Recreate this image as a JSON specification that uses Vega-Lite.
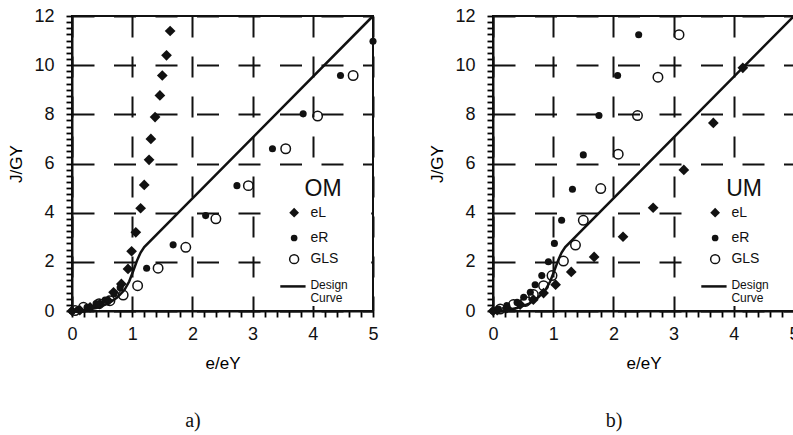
{
  "$schema": "https://vega.github.io/schema/vega-lite/v6.json",
  "padding": {"left": 6, "top": 6, "right": 0, "bottom": 0},
  "background": "white",
  "config": {
    "font": "Liberation Sans",
    "view": {"stroke": "#111", "strokeWidth": 2},
    "axis": {
      "domainColor": "#111", "domainWidth": 2,
      "gridColor": "#111", "gridWidth": 2,
      "labelColor": "#111", "labelFontSize": 18, "labelOverlap": false, "labelFlush": false,
      "titleColor": "black", "titleFontSize": 17, "titleFontWeight": "normal",
      "tickCount": 100
    },
    "text": {"color": "#111", "font": "Liberation Sans"},
    "title": {"color": "#111"}
  },
  "datasets": {
    "design": [
      {"x": 0, "y": 0}, {"x": 0.2, "y": 0.03}, {"x": 0.4, "y": 0.12}, {"x": 0.6, "y": 0.3},
      {"x": 0.75, "y": 0.55}, {"x": 0.87, "y": 0.85}, {"x": 0.95, "y": 1.2}, {"x": 1.02, "y": 1.65},
      {"x": 1.08, "y": 2.05}, {"x": 1.14, "y": 2.38}, {"x": 1.2, "y": 2.6}, {"x": 5, "y": 12}
    ],
    "om": [
      {"series": "eL", "x": 0, "y": 0}, {"series": "eL", "x": 0.13, "y": 0.03}, {"series": "eL", "x": 0.3, "y": 0.15},
      {"series": "eL", "x": 0.46, "y": 0.28}, {"series": "eL", "x": 0.6, "y": 0.42}, {"series": "eL", "x": 0.69, "y": 0.76},
      {"series": "eL", "x": 0.82, "y": 1.1}, {"series": "eL", "x": 0.93, "y": 1.71}, {"series": "eL", "x": 0.99, "y": 2.43},
      {"series": "eL", "x": 1.06, "y": 3.2}, {"series": "eL", "x": 1.14, "y": 4.18}, {"series": "eL", "x": 1.2, "y": 5.13},
      {"series": "eL", "x": 1.28, "y": 6.15}, {"series": "eL", "x": 1.31, "y": 7.0}, {"series": "eL", "x": 1.38, "y": 7.89},
      {"series": "eL", "x": 1.46, "y": 8.77}, {"series": "eL", "x": 1.5, "y": 9.58}, {"series": "eL", "x": 1.57, "y": 10.4},
      {"series": "eL", "x": 1.63, "y": 11.39},
      {"series": "eR", "x": 0, "y": 0}, {"series": "eR", "x": 0.1, "y": 0.05}, {"series": "eR", "x": 0.25, "y": 0.15},
      {"series": "eR", "x": 0.4, "y": 0.3}, {"series": "eR", "x": 0.55, "y": 0.45}, {"series": "eR", "x": 0.7, "y": 0.7},
      {"series": "eR", "x": 0.8, "y": 0.95}, {"series": "eR", "x": 1.24, "y": 1.74}, {"series": "eR", "x": 1.68, "y": 2.69},
      {"series": "eR", "x": 2.22, "y": 3.88}, {"series": "eR", "x": 2.74, "y": 5.1}, {"series": "eR", "x": 3.33, "y": 6.6},
      {"series": "eR", "x": 3.84, "y": 8.02}, {"series": "eR", "x": 4.46, "y": 9.58}, {"series": "eR", "x": 5.0, "y": 10.97},
      {"series": "GLS", "x": 0.05, "y": 0.02}, {"series": "GLS", "x": 0.19, "y": 0.15}, {"series": "GLS", "x": 0.45, "y": 0.3},
      {"series": "GLS", "x": 0.63, "y": 0.42}, {"series": "GLS", "x": 0.85, "y": 0.65}, {"series": "GLS", "x": 1.09, "y": 1.03},
      {"series": "GLS", "x": 1.43, "y": 1.74}, {"series": "GLS", "x": 1.89, "y": 2.59}, {"series": "GLS", "x": 2.39, "y": 3.75},
      {"series": "GLS", "x": 2.93, "y": 5.1}, {"series": "GLS", "x": 3.55, "y": 6.6}, {"series": "GLS", "x": 4.08, "y": 7.93},
      {"series": "GLS", "x": 4.67, "y": 9.58}
    ],
    "um": [
      {"series": "eL", "x": 0, "y": 0}, {"series": "eL", "x": 0.07, "y": 0.03}, {"series": "eL", "x": 0.23, "y": 0.12},
      {"series": "eL", "x": 0.45, "y": 0.26}, {"series": "eL", "x": 0.67, "y": 0.46}, {"series": "eL", "x": 0.84, "y": 0.73},
      {"series": "eL", "x": 1.04, "y": 1.07}, {"series": "eL", "x": 1.3, "y": 1.59}, {"series": "eL", "x": 1.68, "y": 2.2},
      {"series": "eL", "x": 2.16, "y": 3.02}, {"series": "eL", "x": 2.66, "y": 4.2}, {"series": "eL", "x": 3.17, "y": 5.74},
      {"series": "eL", "x": 3.66, "y": 7.65}, {"series": "eL", "x": 4.15, "y": 9.89},
      {"series": "eR", "x": 0, "y": 0}, {"series": "eR", "x": 0.09, "y": 0.08}, {"series": "eR", "x": 0.23, "y": 0.22},
      {"series": "eR", "x": 0.4, "y": 0.35}, {"series": "eR", "x": 0.51, "y": 0.56}, {"series": "eR", "x": 0.62, "y": 0.76},
      {"series": "eR", "x": 0.7, "y": 1.07}, {"series": "eR", "x": 0.81, "y": 1.44}, {"series": "eR", "x": 0.92, "y": 2.0},
      {"series": "eR", "x": 1.02, "y": 2.75}, {"series": "eR", "x": 1.14, "y": 3.69}, {"series": "eR", "x": 1.32, "y": 4.95},
      {"series": "eR", "x": 1.5, "y": 6.35}, {"series": "eR", "x": 1.76, "y": 7.95}, {"series": "eR", "x": 2.07, "y": 9.58},
      {"series": "eR", "x": 2.42, "y": 11.24},
      {"series": "GLS", "x": 0.12, "y": 0.08}, {"series": "GLS", "x": 0.34, "y": 0.26}, {"series": "GLS", "x": 0.54, "y": 0.39},
      {"series": "GLS", "x": 0.67, "y": 0.67}, {"series": "GLS", "x": 0.84, "y": 1.03}, {"series": "GLS", "x": 0.98, "y": 1.44},
      {"series": "GLS", "x": 1.17, "y": 2.03}, {"series": "GLS", "x": 1.37, "y": 2.68}, {"series": "GLS", "x": 1.5, "y": 3.69},
      {"series": "GLS", "x": 1.79, "y": 4.98}, {"series": "GLS", "x": 2.08, "y": 6.38}, {"series": "GLS", "x": 2.4, "y": 7.95},
      {"series": "GLS", "x": 2.74, "y": 9.51}, {"series": "GLS", "x": 3.09, "y": 11.24}
    ]
  },
  "spacing": 47,
  "hconcat": [
    {
      "title": {"text": "a)", "orient": "bottom", "frame": "bounds", "anchor": "middle", "font": "Liberation Serif", "fontSize": 20, "fontWeight": "normal", "offset": 40},
      "width": 301, "height": 295,
      "layer": [
        {
          "data": {"name": "design"},
          "mark": {"type": "line", "color": "#111", "strokeWidth": 2.5},
          "encoding": {
            "x": {"field": "x", "type": "quantitative", "scale": {"domain": [0, 5], "nice": false},
              "axis": {"title": "e/eY", "values": [0,0.2,0.4,0.6,0.8,1,1.2,1.4,1.6,1.8,2,2.2,2.4,2.6,2.8,3,3.2,3.4,3.6,3.8,4,4.2,4.4,4.6,4.8,5],
                "labelExpr": "abs(datum.value - round(datum.value)) < 0.001 ? format(datum.value, '.0f') : ''",
                "ticks": true, "tickSize": 6, "tickWidth": 1.8, "tickColor": "black", "tickOpacity": 1,
                "grid": true, "gridDash": [21, 19],
                "gridOpacity": {"condition": {"test": "abs(datum.value - round(datum.value)) < 0.001", "value": 1}, "value": 0},
                "labelPadding": 8, "titlePadding": 12}},
            "y": {"field": "y", "type": "quantitative", "scale": {"domain": [0, 12], "nice": false},
              "axis": {"title": "J/GY", "values": [0,0.25,0.5,0.75,1,1.25,1.5,1.75,2,2.25,2.5,2.75,3,3.25,3.5,3.75,4,4.25,4.5,4.75,5,5.25,5.5,5.75,6,6.25,6.5,6.75,7,7.25,7.5,7.75,8,8.25,8.5,8.75,9,9.25,9.5,9.75,10,10.25,10.5,10.75,11,11.25,11.5,11.75,12],
                "labelExpr": "abs(datum.value / 2 - round(datum.value / 2)) < 0.001 ? format(datum.value, '.0f') : ''",
                "ticks": true, "tickSize": 6, "tickWidth": 1.8, "tickColor": "black", "tickOpacity": 1,
                "grid": true, "gridDash": [22, 19.5],
                "gridOpacity": {"condition": {"test": "abs(datum.value / 2 - round(datum.value / 2)) < 0.001", "value": 1}, "value": 0},
                "labelPadding": 12, "titlePadding": 8}}
          }
        },
        {
          "data": {"values": [{"label": "legend box"}]},
          "mark": {"type": "rect", "fill": "white", "stroke": null},
          "encoding": {"x": {"datum": 3.38}, "x2": {"datum": 4.97}, "y": {"datum": 0.2}, "y2": {"datum": 5.57}}
        },
        {
          "data": {"name": "om"},
          "transform": [{"filter": "datum.series === 'eL'"}],
          "mark": {"type": "point", "shape": "diamond", "filled": true, "color": "#111", "size": 115, "opacity": 1},
          "encoding": {"x": {"field": "x", "type": "quantitative"}, "y": {"field": "y", "type": "quantitative"}}
        },
        {
          "data": {"name": "om"},
          "transform": [{"filter": "datum.series === 'eR'"}],
          "mark": {"type": "point", "shape": "circle", "filled": true, "color": "#111", "size": 50, "opacity": 1},
          "encoding": {"x": {"field": "x", "type": "quantitative"}, "y": {"field": "y", "type": "quantitative"}}
        },
        {
          "data": {"name": "om"},
          "transform": [{"filter": "datum.series === 'GLS'"}],
          "mark": {"type": "point", "shape": "circle", "filled": false, "color": "#111", "size": 90, "strokeWidth": 1.5, "opacity": 1},
          "encoding": {"x": {"field": "x", "type": "quantitative"}, "y": {"field": "y", "type": "quantitative"}}
        },
        {
          "data": {"values": [{"label": "OM"}]},
          "mark": {"type": "text", "fontSize": 23, "align": "center", "baseline": "middle"},
          "encoding": {"x": {"datum": 4.17}, "y": {"datum": 4.96}, "text": {"field": "label"}}
        },
        {
          "data": {"values": [{"label": "eL"}]},
          "mark": {"type": "point", "shape": "diamond", "filled": true, "color": "#111", "size": 95, "opacity": 1},
          "encoding": {"x": {"datum": 3.69}, "y": {"datum": 4.0}}
        },
        {
          "data": {"values": [{"label": "eR"}]},
          "mark": {"type": "point", "shape": "circle", "filled": true, "color": "#111", "size": 45, "opacity": 1},
          "encoding": {"x": {"datum": 3.69}, "y": {"datum": 2.97}}
        },
        {
          "data": {"values": [{"label": "GLS"}]},
          "mark": {"type": "point", "shape": "circle", "filled": false, "color": "#111", "size": 80, "strokeWidth": 1.5, "opacity": 1},
          "encoding": {"x": {"datum": 3.69}, "y": {"datum": 2.11}}
        },
        {
          "data": {"values": [{"label": "Design Curve"}]},
          "mark": {"type": "rule", "color": "#111", "strokeWidth": 2.5},
          "encoding": {"x": {"datum": 3.46}, "x2": {"datum": 3.88}, "y": {"datum": 1.0}}
        },
        {
          "data": {"values": [{"label": "eL"}]},
          "mark": {"type": "text", "fontSize": 14, "align": "left", "baseline": "middle"},
          "encoding": {"x": {"datum": 3.96}, "y": {"datum": 4.0}, "text": {"field": "label"}}
        },
        {
          "data": {"values": [{"label": "eR"}]},
          "mark": {"type": "text", "fontSize": 14, "align": "left", "baseline": "middle"},
          "encoding": {"x": {"datum": 3.96}, "y": {"datum": 2.97}, "text": {"field": "label"}}
        },
        {
          "data": {"values": [{"label": "GLS"}]},
          "mark": {"type": "text", "fontSize": 14, "align": "left", "baseline": "middle"},
          "encoding": {"x": {"datum": 3.96}, "y": {"datum": 2.11}, "text": {"field": "label"}}
        },
        {
          "data": {"values": [{"label": "Design Curve"}]},
          "mark": {"type": "text", "fontSize": 12, "align": "left", "baseline": "middle", "lineHeight": 13, "text": ["Design", "Curve"]},
          "encoding": {"x": {"datum": 3.96}, "y": {"datum": 1.05}}
        }
      ]
    },
    {
      "title": {"text": "b)", "orient": "bottom", "frame": "bounds", "anchor": "middle", "font": "Liberation Serif", "fontSize": 20, "fontWeight": "normal", "offset": 40},
      "width": 301, "height": 295,
      "layer": [
        {
          "data": {"name": "design"},
          "mark": {"type": "line", "color": "#111", "strokeWidth": 2.5},
          "encoding": {
            "x": {"field": "x", "type": "quantitative", "scale": {"domain": [0, 5], "nice": false},
              "axis": {"title": "e/eY", "values": [0,0.2,0.4,0.6,0.8,1,1.2,1.4,1.6,1.8,2,2.2,2.4,2.6,2.8,3,3.2,3.4,3.6,3.8,4,4.2,4.4,4.6,4.8,5],
                "labelExpr": "abs(datum.value - round(datum.value)) < 0.001 ? format(datum.value, '.0f') : ''",
                "ticks": true, "tickSize": 6, "tickWidth": 1.8, "tickColor": "black", "tickOpacity": 1,
                "grid": true, "gridDash": [21, 19],
                "gridOpacity": {"condition": {"test": "abs(datum.value - round(datum.value)) < 0.001", "value": 1}, "value": 0},
                "labelPadding": 8, "titlePadding": 12}},
            "y": {"field": "y", "type": "quantitative", "scale": {"domain": [0, 12], "nice": false},
              "axis": {"title": "J/GY", "values": [0,0.25,0.5,0.75,1,1.25,1.5,1.75,2,2.25,2.5,2.75,3,3.25,3.5,3.75,4,4.25,4.5,4.75,5,5.25,5.5,5.75,6,6.25,6.5,6.75,7,7.25,7.5,7.75,8,8.25,8.5,8.75,9,9.25,9.5,9.75,10,10.25,10.5,10.75,11,11.25,11.5,11.75,12],
                "labelExpr": "abs(datum.value / 2 - round(datum.value / 2)) < 0.001 ? format(datum.value, '.0f') : ''",
                "ticks": true, "tickSize": 6, "tickWidth": 1.8, "tickColor": "black", "tickOpacity": 1,
                "grid": true, "gridDash": [22, 19.5],
                "gridOpacity": {"condition": {"test": "abs(datum.value / 2 - round(datum.value / 2)) < 0.001", "value": 1}, "value": 0},
                "labelPadding": 12, "titlePadding": 8}}
          }
        },
        {
          "data": {"values": [{"label": "legend box"}]},
          "mark": {"type": "rect", "fill": "white", "stroke": null},
          "encoding": {"x": {"datum": 3.38}, "x2": {"datum": 5}, "y": {"datum": 0.2}, "y2": {"datum": 5.57}}
        },
        {
          "data": {"name": "um"},
          "transform": [{"filter": "datum.series === 'eL'"}],
          "mark": {"type": "point", "shape": "diamond", "filled": true, "color": "#111", "size": 115, "opacity": 1},
          "encoding": {"x": {"field": "x", "type": "quantitative"}, "y": {"field": "y", "type": "quantitative"}}
        },
        {
          "data": {"name": "um"},
          "transform": [{"filter": "datum.series === 'eR'"}],
          "mark": {"type": "point", "shape": "circle", "filled": true, "color": "#111", "size": 50, "opacity": 1},
          "encoding": {"x": {"field": "x", "type": "quantitative"}, "y": {"field": "y", "type": "quantitative"}}
        },
        {
          "data": {"name": "um"},
          "transform": [{"filter": "datum.series === 'GLS'"}],
          "mark": {"type": "point", "shape": "circle", "filled": false, "color": "#111", "size": 90, "strokeWidth": 1.5, "opacity": 1},
          "encoding": {"x": {"field": "x", "type": "quantitative"}, "y": {"field": "y", "type": "quantitative"}}
        },
        {
          "data": {"values": [{"label": "UM"}]},
          "mark": {"type": "text", "fontSize": 23, "align": "center", "baseline": "middle"},
          "encoding": {"x": {"datum": 4.17}, "y": {"datum": 4.96}, "text": {"field": "label"}}
        },
        {
          "data": {"values": [{"label": "eL"}]},
          "mark": {"type": "point", "shape": "diamond", "filled": true, "color": "#111", "size": 95, "opacity": 1},
          "encoding": {"x": {"datum": 3.69}, "y": {"datum": 4.0}}
        },
        {
          "data": {"values": [{"label": "eR"}]},
          "mark": {"type": "point", "shape": "circle", "filled": true, "color": "#111", "size": 45, "opacity": 1},
          "encoding": {"x": {"datum": 3.69}, "y": {"datum": 2.97}}
        },
        {
          "data": {"values": [{"label": "GLS"}]},
          "mark": {"type": "point", "shape": "circle", "filled": false, "color": "#111", "size": 80, "strokeWidth": 1.5, "opacity": 1},
          "encoding": {"x": {"datum": 3.69}, "y": {"datum": 2.11}}
        },
        {
          "data": {"values": [{"label": "Design Curve"}]},
          "mark": {"type": "rule", "color": "#111", "strokeWidth": 2.5},
          "encoding": {"x": {"datum": 3.46}, "x2": {"datum": 3.88}, "y": {"datum": 1.0}}
        },
        {
          "data": {"values": [{"label": "eL"}]},
          "mark": {"type": "text", "fontSize": 14, "align": "left", "baseline": "middle"},
          "encoding": {"x": {"datum": 3.96}, "y": {"datum": 4.0}, "text": {"field": "label"}}
        },
        {
          "data": {"values": [{"label": "eR"}]},
          "mark": {"type": "text", "fontSize": 14, "align": "left", "baseline": "middle"},
          "encoding": {"x": {"datum": 3.96}, "y": {"datum": 2.97}, "text": {"field": "label"}}
        },
        {
          "data": {"values": [{"label": "GLS"}]},
          "mark": {"type": "text", "fontSize": 14, "align": "left", "baseline": "middle"},
          "encoding": {"x": {"datum": 3.96}, "y": {"datum": 2.11}, "text": {"field": "label"}}
        },
        {
          "data": {"values": [{"label": "Design Curve"}]},
          "mark": {"type": "text", "fontSize": 12, "align": "left", "baseline": "middle", "lineHeight": 13, "text": ["Design", "Curve"]},
          "encoding": {"x": {"datum": 3.96}, "y": {"datum": 1.05}}
        }
      ]
    }
  ]
}
